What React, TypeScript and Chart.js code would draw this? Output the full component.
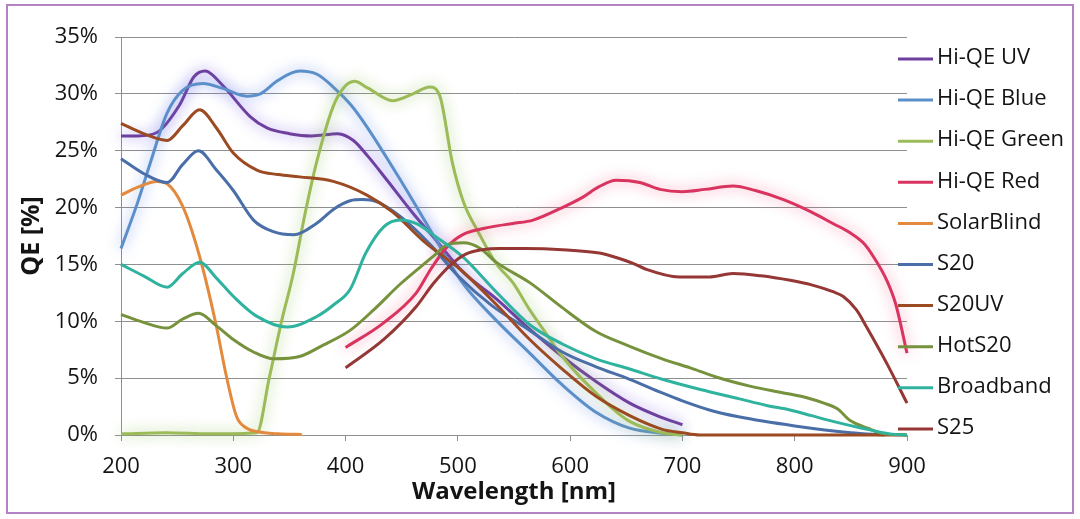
import React, { useEffect, useRef } from "react";
import { Chart, registerables } from "chart.js";

Chart.register(...registerables);

// ---- Data (wavelength in nm, QE in %) ----
const seriesNames = [
  "Hi-QE UV",
  "Hi-QE Blue",
  "Hi-QE Green",
  "Hi-QE Red",
  "SolarBlind",
  "S20",
  "S20UV",
  "HotS20",
  "Broadband",
  "S25",
];

const seriesColors = [
  "#6f3f9e",
  "#5b8fc9",
  "#9bbb59",
  "#d9345f",
  "#e38a3e",
  "#4a6ea8",
  "#9c4a22",
  "#76923c",
  "#2fb39e",
  "#953735",
];

const glowColors = [
  "rgba(120,90,230,0.8)",
  "rgba(90,130,230,0.8)",
  "rgba(140,190,80,0.8)",
  "rgba(240,60,110,0.65)",
  null,
  null,
  null,
  null,
  null,
  null,
];

const hiQeUvNm = [200, 215, 232, 252, 265, 275, 290, 315, 330, 350, 370, 393, 407, 420, 437, 460, 480, 505, 534, 564, 593, 623, 653, 680, 700];
const hiQeUvQe = [26.3, 26.3, 26.6, 29.0, 31.5, 32.0, 30.8, 28.0, 27.0, 26.5, 26.3, 26.5, 25.9, 24.5, 22.4, 19.5, 17.2, 14.3, 12.0, 9.3, 6.9, 4.7, 2.8, 1.6, 0.9];

const hiQeBlueNm = [200, 215, 226, 241, 255, 273, 290, 312, 324, 340, 359, 375, 389, 405, 419, 449, 475, 504, 534, 564, 593, 623, 653, 682, 700];
const hiQeBlueQe = [16.4, 20.5, 23.9, 28.3, 30.3, 30.9, 30.5, 29.8, 30.0, 31.2, 32.0, 31.7, 30.6, 29.0, 27.1, 22.4, 18.1, 13.4, 10.1, 7.2, 4.4, 2.0, 0.6, 0.15, 0.0];

const hiQeGreenNm = [200, 240, 280, 321, 332, 343, 353, 364, 374, 389, 398, 408, 420, 442, 460, 475, 484, 495, 505, 519, 534, 549, 564, 578, 593, 608, 623, 638, 653, 682, 700];
const hiQeGreenQe = [0.1, 0.2, 0.1, 0.2, 5.0, 10.0, 14.0, 19.5, 23.9, 28.9, 30.5, 31.1, 30.5, 29.4, 30.0, 30.6, 29.8, 24.0, 20.5, 17.7, 15.1, 13.4, 11.0, 9.0, 6.9, 5.2, 3.7, 2.3, 1.2, 0.2, 0.0];

const hiQeRedNm = [400, 433, 463, 476, 490, 504, 530, 549, 567, 593, 611, 625, 641, 662, 680, 700, 720, 745, 765, 790, 815, 834, 849, 862, 870, 882, 890, 900];
const hiQeRedQe = [7.7, 9.8, 12.5, 14.6, 16.5, 17.6, 18.3, 18.6, 18.9, 20.0, 20.9, 21.8, 22.4, 22.2, 21.6, 21.4, 21.6, 21.9, 21.5, 20.7, 19.6, 18.6, 17.8, 16.8, 15.7, 13.6, 11.5, 7.2];

const solarBlindNm = [200, 215, 232, 241, 255, 270, 284, 294, 303, 312, 321, 340, 361];
const solarBlindQe = [21.1, 21.8, 22.3, 22.1, 20.1, 15.7, 10.0, 5.1, 1.6, 0.6, 0.3, 0.1, 0.05];

const s20Nm = [200, 220, 241, 255, 269, 285, 300, 318, 335, 354, 374, 390, 404, 415, 428, 449, 475, 500, 530, 564, 593, 623, 653, 682, 700, 724, 750, 800, 850, 880];
const s20Qe = [24.3, 23.0, 22.2, 23.8, 25.0, 23.3, 21.5, 18.9, 17.9, 17.6, 18.6, 19.9, 20.6, 20.7, 20.5, 19.2, 16.8, 14.0, 11.4, 9.2, 7.3, 6.0, 4.9, 3.7, 3.0, 2.2, 1.6, 0.8, 0.2, 0.0];

const s20uvNm = [200, 220, 241, 255, 270, 285, 300, 321, 340, 359, 389, 419, 442, 470, 504, 534, 564, 593, 623, 653, 682, 700, 715, 800, 900];
const s20uvQe = [27.4, 26.5, 25.9, 27.2, 28.6, 27.0, 24.8, 23.3, 22.9, 22.7, 22.3, 21.1, 19.6, 17.0, 14.4, 11.5, 8.4, 5.8, 3.4, 1.7, 0.5, 0.2, 0.0, 0.0, 0.0];

const hotS20Nm = [200, 220, 241, 255, 269, 285, 300, 318, 336, 359, 380, 404, 425, 449, 478, 490, 505, 520, 534, 564, 593, 623, 653, 682, 710, 730, 760, 790, 810, 826, 838, 849, 865, 880, 900];
const hotS20Qe = [10.6, 9.9, 9.4, 10.2, 10.7, 9.6, 8.4, 7.3, 6.7, 6.9, 7.9, 9.2, 11.0, 13.3, 15.7, 16.7, 16.9, 16.4, 15.2, 13.4, 11.2, 9.1, 7.8, 6.7, 5.8, 5.1, 4.3, 3.7, 3.3, 2.8, 2.3, 1.3, 0.6, 0.1, 0.0];

const broadbandNm = [200, 220, 241, 255, 270, 285, 300, 320, 348, 374, 390, 404, 418, 434, 449, 465, 478, 504, 534, 564, 593, 623, 653, 682, 716, 750, 775, 796, 815, 834, 860, 885, 900];
const broadbandQe = [15.0, 14.0, 13.0, 14.2, 15.2, 13.8, 12.2, 10.5, 9.5, 10.4, 11.5, 12.8, 16.0, 18.3, 18.9, 18.5, 17.6, 15.7, 12.6, 9.7, 8.0, 6.7, 5.8, 4.9, 4.0, 3.2, 2.6, 2.2, 1.7, 1.2, 0.6, 0.1, 0.0];

const s25Nm = [400, 434, 463, 478, 493, 507, 522, 537, 560, 593, 626, 638, 656, 667, 697, 709, 724, 745, 770, 796, 815, 834, 843, 855, 864, 882, 900];
const s25Qe = [5.9, 8.4, 11.3, 13.3, 14.9, 15.9, 16.3, 16.4, 16.4, 16.3, 16.0, 15.7, 15.1, 14.6, 13.9, 13.9, 13.9, 14.2, 14.0, 13.6, 13.2, 12.6, 12.2, 11.0, 9.5, 6.3, 2.8];

const seriesNm = [hiQeUvNm, hiQeBlueNm, hiQeGreenNm, hiQeRedNm, solarBlindNm, s20Nm, s20uvNm, hotS20Nm, broadbandNm, s25Nm];
const seriesQe = [hiQeUvQe, hiQeBlueQe, hiQeGreenQe, hiQeRedQe, solarBlindQe, s20Qe, s20uvQe, hotS20Qe, broadbandQe, s25Qe];

const xMin = 200;
const xMax = 900;
const xStep = 100;
const yMin = 0;
const yMax = 35;
const yStep = 5;

const xTitle = "Wavelength [nm]";
const yTitle = "QE [%]";

const FONT = '"Open Sans", "DejaVu Sans", sans-serif';
const GRID = "#8f8f8f";
const TEXT = "#141414";

const glowPlugin = {
  id: "glowPlugin",
  beforeDatasetDraw(chart: any, args: any) {
    const ds: any = chart.data.datasets[args.index];
    const ctx = chart.ctx;
    ctx.save();
    if (ds.glowColor) {
      ctx.shadowColor = ds.glowColor;
      ctx.shadowBlur = 14;
      ctx.shadowOffsetX = 0;
      ctx.shadowOffsetY = 0;
    }
  },
  afterDatasetDraw(chart: any) {
    chart.ctx.restore();
  },
};

const sideLegendPlugin = {
  id: "sideLegend",
  afterDraw(chart: any) {
    const { ctx, chartArea } = chart;
    ctx.save();
    ctx.font = `22px ${FONT}`;
    ctx.textBaseline = "middle";
    ctx.textAlign = "left";
    const x0 = chartArea.right - 9;
    chart.data.datasets.forEach((ds: any, i: number) => {
      const y = chartArea.top + 22 + i * 41.1;
      ctx.strokeStyle = ds.borderColor;
      ctx.lineWidth = 3;
      ctx.lineCap = "butt";
      ctx.beginPath();
      ctx.moveTo(x0, y);
      ctx.lineTo(x0 + 35, y);
      ctx.stroke();
      ctx.fillStyle = TEXT;
      ctx.fillText(ds.label, x0 + 39, y - 1);
    });
    ctx.restore();
  },
};

export default function App() {
  const canvasRef = useRef<HTMLCanvasElement | null>(null);

  useEffect(() => {
    const canvas = canvasRef.current;
    if (!canvas) return;

    const datasets = seriesNames.map((name, i) => ({
      label: name,
      data: seriesNm[i].map((x, j) => ({ x, y: seriesQe[i][j] })),
      borderColor: seriesColors[i],
      backgroundColor: seriesColors[i],
      borderWidth: 3,
      pointRadius: 0,
      pointHoverRadius: 0,
      fill: false,
      cubicInterpolationMode: "monotone" as const,
      clip: false as any,
      order: seriesNames.length - i,
      glowColor: glowColors[i],
    }));

    const chart = new Chart(canvas, {
      type: "line",
      data: { datasets: datasets as any },
      options: {
        animation: false,
        responsive: false,
        maintainAspectRatio: false,
        events: [],
        layout: { padding: { left: 0, top: 37, right: 173, bottom: 0 } },
        plugins: {
          legend: { display: false },
          tooltip: { enabled: false },
        },
        scales: {
          x: {
            type: "linear",
            min: xMin,
            max: xMax,
            afterFit(scale: any) {
              scale.height = 84;
            },
            ticks: {
              stepSize: xStep,
              color: TEXT,
              padding: 13,
              font: { family: FONT, size: 22 },
              callback: (v: any) => String(v),
            },
            grid: {
              display: true,
              drawOnChartArea: false,
              drawTicks: true,
              tickLength: 6,
              color: GRID,
            },
            border: { display: true, color: GRID, width: 1 },
            title: {
              display: true,
              text: xTitle,
              color: TEXT,
              font: { family: FONT, size: 24, weight: "bold" },
              padding: { top: 0, bottom: 12 },
            },
          },
          y: {
            type: "linear",
            min: yMin,
            max: yMax,
            afterFit(scale: any) {
              scale.width = 121;
            },
            ticks: {
              stepSize: yStep,
              color: TEXT,
              padding: 17,
              font: { family: FONT, size: 22 },
              callback: (v: any) => `${v}%`,
            },
            grid: {
              display: true,
              drawTicks: true,
              tickLength: 6,
              color: GRID,
              lineWidth: 1,
            },
            border: { display: true, color: GRID, width: 1 },
            title: {
              display: true,
              text: yTitle,
              color: TEXT,
              font: { family: FONT, size: 25, weight: "bold" },
              padding: { top: 17, bottom: 0 },
            },
          },
        },
      },
      plugins: [glowPlugin, sideLegendPlugin],
    });

    return () => chart.destroy();
  }, []);

  return (
    <div
      style={{
        position: "fixed",
        left: 0,
        top: 0,
        width: 1080,
        height: 519,
        background: "#ffffff",
        overflow: "hidden",
      }}
    >
      <canvas ref={canvasRef} width={1080} height={519} style={{ display: "block", width: 1080, height: 519 }} />
      <div
        style={{
          position: "absolute",
          left: 6,
          top: 4,
          width: 1068,
          height: 510,
          border: "2px solid #b482c2",
          boxSizing: "border-box",
          pointerEvents: "none",
        }}
      />
    </div>
  );
}
